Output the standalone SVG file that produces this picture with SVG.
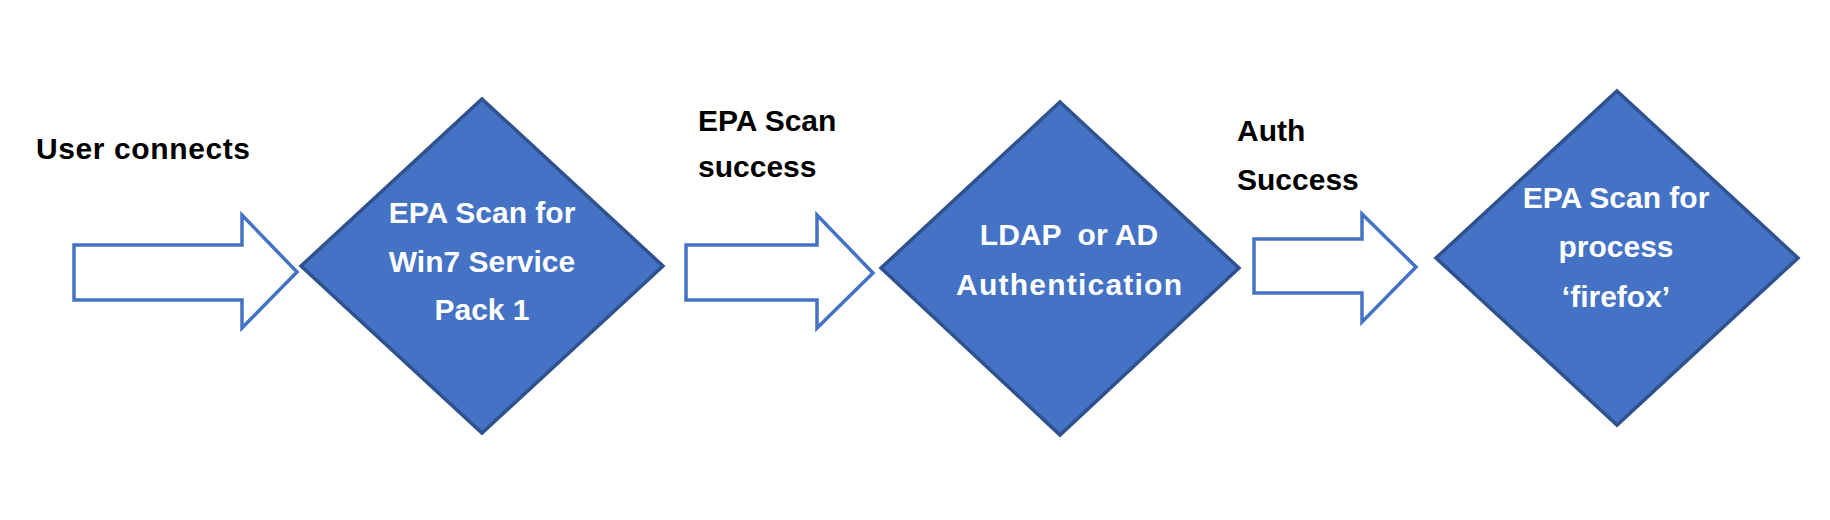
<svg xmlns="http://www.w3.org/2000/svg" width="1830" height="520" viewBox="0 0 1830 520">
<style>
.dia{fill:#4472C4;stroke:#2F528F;stroke-width:3.5;stroke-linejoin:miter}
.arr{fill:#FFFFFF;stroke:#4472C4;stroke-width:3.5;stroke-linejoin:miter}
.lbl{font-family:"Liberation Sans",Arial,sans-serif;font-weight:bold;font-size:30px;fill:#000000}
.in{font-family:"Liberation Sans",Arial,sans-serif;font-weight:bold;font-size:30px;fill:#FFFFFF;text-anchor:middle}
</style>
<rect width="1830" height="520" fill="#FFFFFF"/>
<g id="connectors">
<polygon class="arr" points="74,245 242,245 242,215 297,272 242,328 242,300 74,300"/>
<polygon class="arr" points="686,245 817,245 817,215 873,273 817,328 817,300 686,300"/>
<polygon class="arr" points="1254,239 1362,239 1362,214 1416,267 1362,322 1362,293 1254,293"/>
</g>
<g id="label-user-connects">
<text class="lbl" x="36" y="159" textLength="214" lengthAdjust="spacing">User connects</text>
</g>
<g id="label-epa-success">
<text class="lbl" x="698" y="131">EPA Scan</text>
<text class="lbl" x="698" y="177">success</text>
</g>
<g id="label-auth-success">
<text class="lbl" x="1237" y="141">Auth</text>
<text class="lbl" x="1237" y="190">Success</text>
</g>
<g id="node-epa-win7">
<polygon class="dia" points="482,99 663,266 482,433 301,266"/>
<text class="in" x="482" y="223">EPA Scan for</text>
<text class="in" x="482" y="272">Win7 Service</text>
<text class="in" x="482" y="320">Pack 1</text>
</g>
<g id="node-ldap-ad">
<polygon class="dia" points="1060,102 1239,268 1060,435 881,268"/>
<text class="in" x="1069" y="245" xml:space="preserve">LDAP  or AD</text>
<text class="in" x="1069" y="295" textLength="226" lengthAdjust="spacing">Authentication</text>
</g>
<g id="node-epa-firefox">
<polygon class="dia" points="1617,91 1798,258 1617,425 1436,258"/>
<text class="in" x="1616" y="208">EPA Scan for</text>
<text class="in" x="1616" y="257">process</text>
<text class="in" x="1616" y="307">‘firefox’</text>
</g>
</svg>
